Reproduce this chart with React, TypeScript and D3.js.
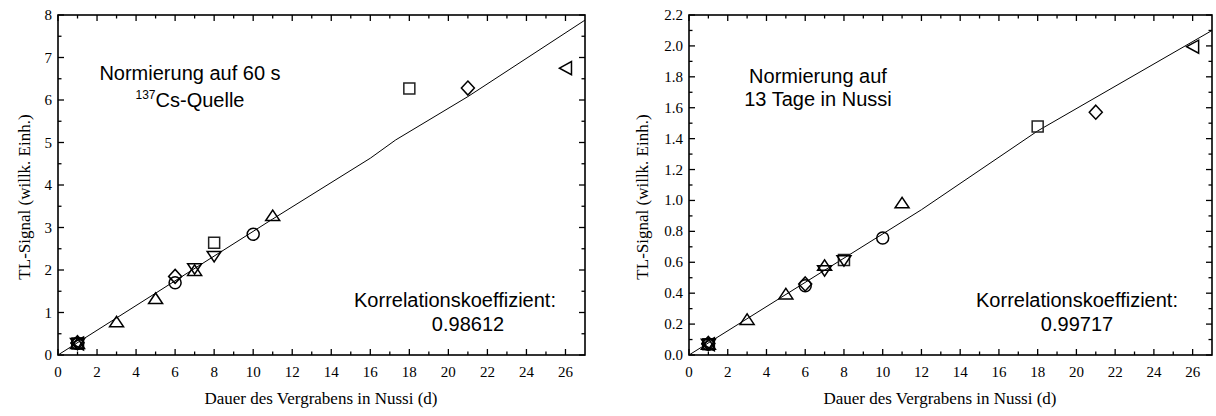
import React from "react";
import * as d3 from "d3";

// ---------- data ----------
const xTickValues = [0, 2, 4, 6, 8, 10, 12, 14, 16, 18, 20, 22, 24, 26];

// Left chart (Normierung auf 60 s, 137Cs-Quelle)
const leftSquare = [[1, 0.27], [8, 2.64], [18, 6.27]];
const leftCircle = [[1, 0.27], [6, 1.7], [10, 2.84]];
const leftTriUp = [[1, 0.27], [3, 0.78], [5, 1.33], [7, 1.99], [11, 3.28]];
const leftTriDown = [[1, 0.27], [7, 2.03], [8, 2.32]];
const leftDiamond = [[1, 0.29], [6, 1.85], [21, 6.28]];
const leftTriLeft = [[1, 0.27], [26, 6.75]];
const leftFit = [[0, 0], [11, 3.2], [16, 4.63], [17.3, 5.06], [21, 6.08], [27, 7.88]];
const leftYTicks = [0, 1, 2, 3, 4, 5, 6, 7, 8];

// Right chart (Normierung auf 13 Tage in Nussi)
const rightSquare = [[1, 0.07], [8, 0.615], [18, 1.478]];
const rightCircle = [[1, 0.07], [6, 0.448], [10, 0.757]];
const rightTriUp = [[1, 0.07], [3, 0.23], [5, 0.395], [7, 0.58], [11, 0.985]];
const rightTriDown = [[1, 0.07], [7, 0.545], [8, 0.61]];
const rightDiamond = [[1, 0.075], [6, 0.46], [21, 1.571]];
const rightTriLeft = [[1, 0.07], [26, 1.995]];
const rightFit = [[0, 0], [12, 0.94], [18, 1.45], [27, 2.1]];
const rightYTicks = [0, 0.2, 0.4, 0.6, 0.8, 1.0, 1.2, 1.4, 1.6, 1.8, 2.0, 2.2];

const xLabel = "Dauer des Vergrabens in Nussi (d)";
const yLabel = "TL-Signal (willk. Einh.)";

// ---------- helpers ----------
const SERIF = "'Liberation Serif', 'Times New Roman', serif";
const SANS = "'Liberation Sans', Arial, sans-serif";

const shapes: Record<string, string> = {
  square: "M-5.5,-5.5H5.5V5.5H-5.5Z",
  triUp: "M-7,5L7,5L0,-5.5Z",
  triDown: "M-7,-5L7,-5L0,5.5Z",
  diamond: "M0,-7L6.5,0L0,7L-6.5,0Z",
  triLeft: "M-6,0L6,-6.5L6,6.5Z",
};

type Series = { shape: string; data: number[][] };

function Chart(props: {
  x0: number; x1: number; y0: number; y1: number;
  yMax: number; yTicks: number[]; yMinorStep: number; yFmt: (v: number) => string;
  series: Series[]; fit: number[][];
  children?: React.ReactNode; yLabelX: number; xLabelX: number;
}) {
  const { x0, x1, y0, y1, yMax, yTicks, yMinorStep, yFmt, series, fit } = props;
  const x = d3.scaleLinear().domain([0, 27]).range([x0, x1]);
  const y = d3.scaleLinear().domain([0, yMax]).range([y1, y0]);
  const xMinor = d3.range(1, 27, 2);
  const yMinor = d3.range(0, Math.round(yMax / yMinorStep) + 1)
    .map((i) => i * yMinorStep)
    .filter((v) => !yTicks.some((t) => Math.abs(t - v) < 1e-6));
  const major = 6, minor = 3.5;
  const line = d3.line<number[]>().x((d) => x(d[0])).y((d) => y(d[1]));
  const tk: React.ReactNode[] = [];
  xTickValues.forEach((v, i) => {
    tk.push(<line key={"xb" + i} x1={x(v)} x2={x(v)} y1={y1} y2={y1 - major} />);
    tk.push(<line key={"xt" + i} x1={x(v)} x2={x(v)} y1={y0} y2={y0 + major} />);
  });
  xMinor.forEach((v, i) => {
    tk.push(<line key={"xbm" + i} x1={x(v)} x2={x(v)} y1={y1} y2={y1 - minor} />);
    tk.push(<line key={"xtm" + i} x1={x(v)} x2={x(v)} y1={y0} y2={y0 + minor} />);
  });
  yTicks.forEach((v, i) => {
    tk.push(<line key={"yl" + i} x1={x0} x2={x0 + major} y1={y(v)} y2={y(v)} />);
    tk.push(<line key={"yr" + i} x1={x1} x2={x1 - major} y1={y(v)} y2={y(v)} />);
  });
  yMinor.forEach((v, i) => {
    tk.push(<line key={"ylm" + i} x1={x0} x2={x0 + minor} y1={y(v)} y2={y(v)} />);
    tk.push(<line key={"yrm" + i} x1={x1} x2={x1 - minor} y1={y(v)} y2={y(v)} />);
  });
  return (
    <g>
      <path d={line(fit) || ""} fill="none" stroke="#000" strokeWidth={1} />
      {series.map((s, si) =>
        s.data.map((d, i) =>
          s.shape === "circle" ? (
            <circle key={si + "-" + i} cx={x(d[0])} cy={y(d[1])} r={6}
              fill="none" stroke="#000" strokeWidth={1.5} />
          ) : (
            <path key={si + "-" + i} d={shapes[s.shape]}
              transform={`translate(${x(d[0])},${y(d[1])})`}
              fill="none" stroke={s.shape === "square" ? "#222" : "#000"} strokeWidth={1.5} />
          )
        )
      )}
      <g stroke="#000" strokeWidth={1.3}>{tk}</g>
      <rect x={x0} y={y0} width={x1 - x0} height={y1 - y0} fill="none" stroke="#000" strokeWidth={1.6} />
      <g fontFamily={SERIF} fontSize={15} fill="#000">
        {xTickValues.map((v) => (
          <text key={"xl" + v} x={x(v)} y={y1 + 22} textAnchor="middle">{v}</text>
        ))}
        {yTicks.map((v) => (
          <text key={"yl" + v} x={x0 - 6} y={y(v) + 5} textAnchor="end">{yFmt(v)}</text>
        ))}
      </g>
      <text x={props.xLabelX} y={404} textAnchor="middle" fontFamily={SERIF} fontSize={17}>{xLabel}</text>
      <text transform={`translate(${props.yLabelX},197) rotate(-90)`} textAnchor="middle"
        fontFamily={SERIF} fontSize={17}>{yLabel}</text>
      {props.children}
    </g>
  );
}

export default function App() {
  const leftSeries: Series[] = [
    { shape: "square", data: leftSquare },
    { shape: "circle", data: leftCircle },
    { shape: "triUp", data: leftTriUp },
    { shape: "triDown", data: leftTriDown },
    { shape: "diamond", data: leftDiamond },
    { shape: "triLeft", data: leftTriLeft },
  ];
  const rightSeries: Series[] = [
    { shape: "square", data: rightSquare },
    { shape: "circle", data: rightCircle },
    { shape: "triUp", data: rightTriUp },
    { shape: "triDown", data: rightTriDown },
    { shape: "diamond", data: rightDiamond },
    { shape: "triLeft", data: rightTriLeft },
  ];
  return (
    <svg width={1216} height={416} style={{ position: "absolute", left: 0, top: 0, background: "#fff" }}>
      <rect width={1216} height={416} fill="#fff" />
      <Chart x0={58} x1={585} y0={15} y1={355} yMax={8} yTicks={leftYTicks} yMinorStep={0.5}
        yFmt={(v) => String(v)} series={leftSeries} fit={leftFit} yLabelX={30} xLabelX={321}>
        <g fontFamily={SANS} fontSize={20} textAnchor="middle">
          <text x={190} y={80}>Normierung auf 60 s</text>
          <text x={190} y={107}><tspan fontSize={12} dy={-8}>137</tspan><tspan dy={8}>Cs-Quelle</tspan></text>
          <text x={455} y={307}>Korrelationskoeffizient:</text>
          <text x={468} y={331}>0.98612</text>
        </g>
      </Chart>
      <Chart x0={689} x1={1212} y0={15} y1={355} yMax={2.2} yTicks={rightYTicks} yMinorStep={0.1}
        yFmt={(v) => v.toFixed(1)} series={rightSeries} fit={rightFit} yLabelX={648} xLabelX={940}>
        <g fontFamily={SANS} fontSize={20} textAnchor="middle">
          <text x={818} y={83}>Normierung auf</text>
          <text x={818} y={106}>13 Tage in Nussi</text>
          <text x={1077} y={307}>Korrelationskoeffizient:</text>
          <text x={1077} y={331}>0.99717</text>
        </g>
      </Chart>
    </svg>
  );
}
